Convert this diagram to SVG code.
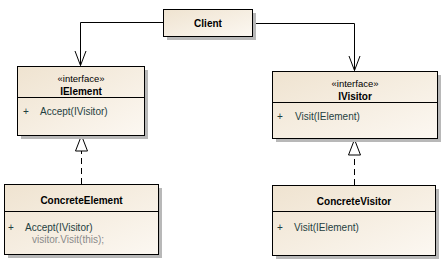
<svg xmlns="http://www.w3.org/2000/svg" width="443" height="260" viewBox="0 0 443 260">
<defs>
<linearGradient id="g" x1="0" y1="0" x2="1" y2="1">
<stop offset="0" stop-color="#efe3d0"/>
<stop offset="1" stop-color="#fcf8f2"/>
</linearGradient>
</defs>
<style>
.box{fill:url(#g);stroke:#000;stroke-width:1}
.sh{fill:#b8b8b8}
.t{font-family:"Liberation Sans",Arial,sans-serif;font-size:10px;fill:#000}
.b{font-weight:bold;text-anchor:middle}
.st{text-anchor:middle;font-size:9.5px}
.m{fill:#1f3f3f}
.g{fill:#8a8a8a}
.c{fill:none;stroke:#000;stroke-width:1}
.d{stroke-dasharray:6,4}
.tri{fill:#fff;stroke:#000;stroke-width:1}
</style>
<rect width="443" height="260" fill="#fff"/>
<g id="connectors">
<path class="c" d="M163,22.5 H80.5 V65.5"/>
<path class="c" d="M75,51 L80.5,65.5 L86,51"/>
<path class="c" d="M252,23.5 H354.5 V70.5"/>
<path class="c" d="M349,56 L354.5,70.5 L360,56"/>
<path class="c d" d="M81.5,184 V151"/>
<path class="tri" d="M81.5,135.5 L75.5,151 L87.5,151 Z"/>
<path class="c d" d="M354.5,185 V155"/>
<path class="tri" d="M354.5,139.5 L348.5,155 L360.5,155 Z"/>
</g>
<g id="Client">
<rect class="sh" x="167" y="13" width="89" height="27"/>
<rect class="box" x="163.5" y="9.5" width="89" height="27"/>
<text class="t b" x="208" y="27">Client</text>
</g>
<g id="IElement">
<rect class="sh" x="21" y="70" width="127" height="69"/>
<rect class="box" x="17.5" y="66.5" width="127" height="69"/>
<line class="c" x1="17.5" y1="97.5" x2="144.5" y2="97.5"/>
<text class="t st" x="81" y="82">«interface»</text>
<text class="t b" x="81" y="95">IElement</text>
<text class="t m" x="23" y="114.5">+</text>
<text class="t m" x="40" y="114.5">Accept(IVisitor)</text>
</g>
<g id="IVisitor">
<rect class="sh" x="276" y="75" width="165" height="67"/>
<rect class="box" x="272.5" y="71.5" width="165" height="67"/>
<line class="c" x1="272.5" y1="102.5" x2="437.5" y2="102.5"/>
<text class="t st" x="355" y="87">«interface»</text>
<text class="t b" x="355" y="100">IVisitor</text>
<text class="t m" x="277" y="119.5">+</text>
<text class="t m" x="295" y="119.5">Visit(IElement)</text>
</g>
<g id="ConcreteElement">
<rect class="sh" x="8" y="188" width="154" height="70"/>
<rect class="box" x="4.5" y="184.5" width="154" height="70"/>
<line class="c" x1="4.5" y1="211.5" x2="158.5" y2="211.5"/>
<text class="t b" x="81.5" y="204">ConcreteElement</text>
<text class="t m" x="8" y="230.5">+</text>
<text class="t m" x="25" y="230.5">Accept(IVisitor)</text>
<text class="t g" x="32" y="242.5">visitor.Visit(this);</text>
</g>
<g id="ConcreteVisitor">
<rect class="sh" x="276" y="189" width="163" height="70"/>
<rect class="box" x="272.5" y="185.5" width="163" height="70"/>
<line class="c" x1="272.5" y1="211.5" x2="435.5" y2="211.5"/>
<text class="t b" x="354" y="204.5">ConcreteVisitor</text>
<text class="t m" x="277" y="230.5">+</text>
<text class="t m" x="294" y="230.5">Visit(IElement)</text>
</g>
</svg>
